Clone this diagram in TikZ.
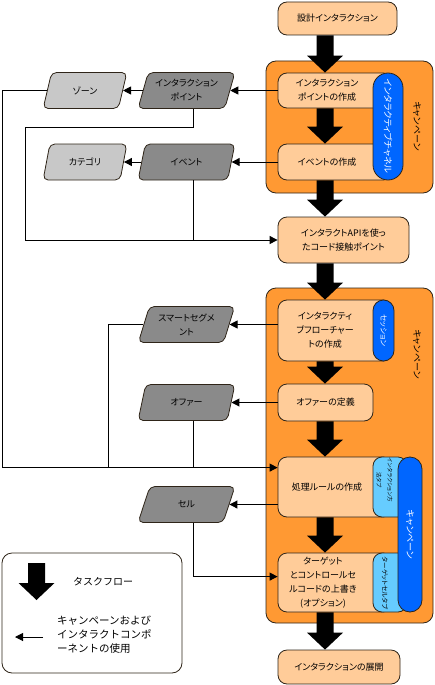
\documentclass[tikz,border=0pt]{standalone}
\usepackage{fontspec}
\setmainfont{Noto Sans CJK JP}[RawFeature=+palt]
\newfontfamily\jpfull{Noto Sans CJK JP}
\usetikzlibrary{shapes.geometric,arrows.meta,calc}
\definecolor{peach}{HTML}{FFCC99}
\definecolor{camp}{HTML}{FF9933}
\definecolor{pillblue}{HTML}{0066FF}
\definecolor{tabblue}{HTML}{66CCFF}
\definecolor{dgray}{HTML}{8A8A8A}
\definecolor{lgray}{HTML}{C8C8C8}
\definecolor{edge}{HTML}{2E2418}
\newcommand\flowarrow[2]{%
  \fill[black] let \p1=#1, \p2=#2 in
  (\x1-8.5pt,\y1) -- (\x1-8.5pt,\y2+17pt) -- (\x1-18pt,\y2+17pt) -- (\x1,\y2)
  -- (\x1+18pt,\y2+17pt) -- (\x1+8.5pt,\y2+17pt) -- (\x1+8.5pt,\y1) -- cycle;}
\tikzset{
  every node/.style={font=\fontsize{9}{14}\selectfont, inner sep=0pt},
  task/.style={draw=edge, fill=peach, rounded corners=9pt, line width=0.8pt, align=center},
  tasktext/.style={align=center},
  campbox/.style={draw=edge, fill=camp, rounded corners=10pt, line width=0.8pt},
  pill/.style={draw=edge, fill=pillblue, line width=0.8pt, text=white},
  tab/.style={draw=edge, fill=tabblue, rounded corners=9pt, line width=0.8pt},
  para/.style={trapezium, trapezium left angle=69, trapezium right angle=111,
    trapezium stretches=true, draw=edge, rounded corners=5pt, line width=0.8pt,
    minimum width=97pt, minimum height=36pt, align=center},
  comp/.style={para, fill=dgray},
  subcomp/.style={para, fill=lgray, minimum width=84pt},
  conn/.style={line width=1pt, -{Triangle[length=8pt,width=8pt]}},
  plain/.style={line width=1pt},
}
\begin{document}
\begin{tikzpicture}[x=1pt,y=-1pt]
\useasboundingbox (0,0) rectangle (434,685);
% column coordinates
\coordinate (fx) at (325,0);
\coordinate (xL) at (2,0);
\coordinate (xM) at (25,0);
\coordinate (xS) at (108,0);
\coordinate (xB) at (193,0);
% campaign boxes
\node[campbox, minimum width=167pt, minimum height=132pt] (camp1) at (349.5,127) {};
\node[campbox, minimum width=167pt, minimum height=335pt] (camp2) at (349.5,455.5) {};
% task nodes
\node[task, minimum width=119pt, minimum height=33pt] (design) at (337.5,18.5) {設計インタラクション};
\node[task, minimum width=114pt, minimum height=35pt] (ipc) at (335,90.5) {};
\node[tasktext] (ipcT) at (327,90.5) {インタラクション\\ポイントの作成};
\node[task, minimum width=114pt, minimum height=36pt] (evc) at (335,162) {};
\node[tasktext] (evcT) at (327,162) {イベントの作成};
\node[task, minimum width=131pt, minimum height=46pt] (api) at (343.5,240) {インタラクトAPIを使っ\\たコード接触ポイント};
\node[task, minimum width=114pt, minimum height=61pt] (ifc) at (335,330.5) {};
\node[tasktext] (ifcT) at (325,330.5) {インタラクティ\\ブフローチャー\\トの作成};
\node[task, minimum width=95pt, minimum height=37pt] (offd) at (325.5,402.5) {オファーの定義};
\node[task, minimum width=114pt, minimum height=60pt] (rule) at (335,487) {};
\node[tasktext] (ruleT) at (327,487) {処理ルールの作成};
\node[task, minimum width=114pt, minimum height=59pt] (tgt) at (335,582.5) {};
\node[tasktext] (tgtT) at (323,582.5) {ターゲット\\とコントロールセ\\ルコードの上書き\\(オプション)};
\node[task, minimum width=122pt, minimum height=34pt] (deploy) at (339,667) {インタラクションの展開};
% tabs
\node[tab, minimum width=34pt, minimum height=60pt] (tab1) at (390,487) {};
\node[rotate=-90, align=center, font=\fontsize{5.5}{11}\selectfont] (tab1T) at (384.5,480) {インタラクション方\\法タブ};
\node[tab, minimum width=34pt, minimum height=59pt] (tab2) at (390,582.5) {};
\node[rotate=-90, font=\fontsize{6.5}{8}\selectfont] (tab2T) at (385,583) {ターゲットセルタブ};
% pills
\node[pill, rounded corners=15pt, minimum width=107pt, minimum height=30pt, rotate=-90] (chan) at (388,126.5) {インタラクティブチャネル};
\node[pill, rounded corners=10.5pt, minimum width=61pt, minimum height=21pt, rotate=-90, font=\fontsize{7.5}{9}\selectfont] (sess) at (383.5,330.5) {セッション};
\node[pill, rounded corners=12pt, minimum width=155pt, minimum height=24pt, rotate=-90] (cpill) at (410,534.5) {キャンペーン};
% campaign labels
\node[rotate=-90] (c1L) at (417,126) {キャンペーン};
\node[rotate=-90] (c2L) at (417,354) {キャンペーン};
% components
\node[comp] (ip) at (186.5,90.5) {インタラクション\\ポイント};
\node[subcomp] (zone) at (85,90.5) {ゾーン};
\node[comp] (ev) at (186.5,162) {イベント};
\node[subcomp] (cat) at (85,162) {カテゴリ};
\node[comp] (seg) at (186.5,324.5) {スマートセグメ\\ント};
\node[comp] (off) at (186.5,402.5) {オファー};
\node[comp] (cell) at (186.5,504.5) {セル};
% entry points
\coordinate (ruleIn) at ($(rule.north west)+(0,11)$);
\coordinate (tgtIn) at ($(tgt.north west)+(0,24)$);
% connectors
\draw[conn] (ipc.west) -- (ip.right side);
\draw[conn] (ip.left side) -- (zone.right side);
\draw[conn] (evc.west) -- (ev.right side);
\draw[conn] (ev.left side) -- (cat.right side);
\draw[conn] (zone.left side) -- (zone.left side -| xL) |- (ruleIn);
\draw[conn] (ip.bottom side -| xB) -- ++(0,19) -| (xM |- api.west) -- (api.west);
\draw[plain] (ev.bottom side -| xB) -- (xB |- api.west);
\draw[conn] (ifc.west |- seg.right side) -- (seg.right side);
\draw[plain] (seg.left side) -- (seg.left side -| xS) -- (xS |- ruleIn);
\draw[conn] (offd.west) -- (off.right side);
\draw[plain] (off.bottom side -| xB) -- (xB |- ruleIn);
\draw[conn] (rule.west |- cell.right side) -- (cell.right side);
\draw[conn] (cell.bottom side -| xB) |- (tgtIn);
% task flow arrows
\flowarrow{(fx |- design.south)}{(fx |- ipc.north)}
\flowarrow{(fx |- ipc.south)}{(fx |- evc.north)}
\flowarrow{(fx |- evc.south)}{(fx |- api.north)}
\flowarrow{(fx |- api.south)}{(fx |- ifc.north)}
\flowarrow{(fx |- ifc.south)}{(fx |- offd.north)}
\flowarrow{(fx |- offd.south)}{(fx |- rule.north)}
\flowarrow{(fx |- rule.south)}{(fx |- tgt.north)}
\flowarrow{(fx |- tgt.south)}{(fx |- deploy.north)}
% legend
\node[draw=edge, rounded corners=10pt, line width=0.8pt, minimum width=180pt, minimum height=120pt] (legend) at (92,613) {};
\coordinate (lgA) at (36.5,563);
\coordinate (lgB) at (36.5,600);
\flowarrow{(lgA)}{(lgB)}
\node[anchor=west, font=\jpfull\fontsize{10}{14}\selectfont] (lgT1) at (73,582) {タスクフロー};
\coordinate (lgC) at (43,637);
\coordinate (lgD) at (15,637);
\draw[conn] (lgC) -- (lgD);
\node[anchor=west, align=left, font=\jpfull\fontsize{10.5}{14}\selectfont] (lgT2) at (57,635) {キャンペーンおよび\\インタラクトコンポ\\ーネントの使用};
\end{tikzpicture}
\end{document}
